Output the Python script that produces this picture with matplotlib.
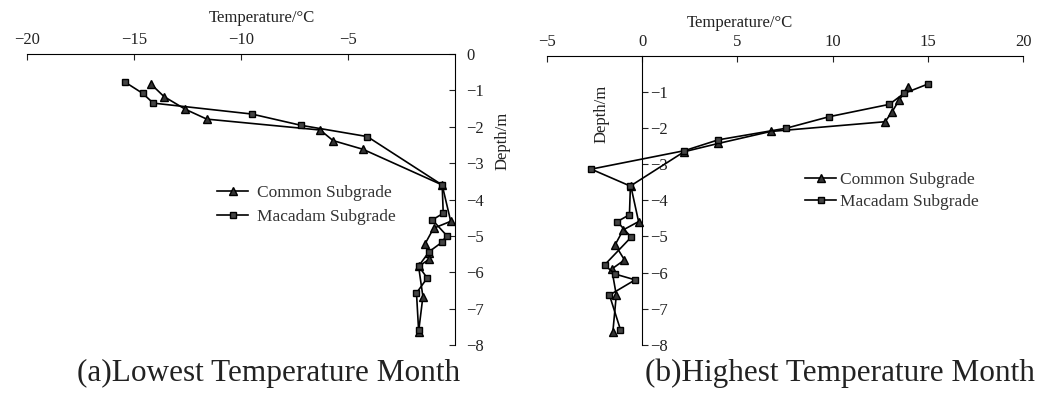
import matplotlib
matplotlib.use("Agg")
import matplotlib.pyplot as plt

plt.rcParams['font.family'] = ['Liberation Serif', 'DejaVu Serif']
plt.rcParams['axes.unicode_minus'] = True

# (a) Lowest temperature month
a_common_T = [-14.2, -13.6, -12.6, -11.6, -6.3, -5.7, -4.3, -0.6, -0.2, -1.0, -1.4, -1.2, -1.2, -1.7, -1.5, -1.7]
a_common_D = [-0.83, -1.17, -1.52, -1.79, -2.09, -2.38, -2.62, -3.6, -4.6, -4.79, -5.22, -5.48, -5.64, -5.84, -6.67, -7.63]
a_macadam_T = [-15.4, -14.6, -14.1, -9.5, -7.2, -4.1, -0.6, -0.55, -1.06, -0.39, -0.62, -1.2, -1.7, -1.3, -1.8, -1.7]
a_macadam_D = [-0.78, -1.08, -1.35, -1.65, -1.96, -2.27, -3.6, -4.38, -4.56, -4.99, -5.18, -5.43, -5.83, -6.16, -6.57, -7.6]

# (b) Highest temperature month
b_common_T = [13.95, 13.5, 13.13, 12.76, 6.74, 4.0, 2.2, -0.6, -0.19, -1.0, -1.42, -0.93, -1.6, -1.36, -1.54]
b_common_D = [-0.88, -1.23, -1.55, -1.83, -2.1, -2.43, -2.66, -3.6, -4.59, -4.82, -5.23, -5.65, -5.9, -6.62, -7.63]
b_macadam_T = [15.0, 13.74, 12.98, 9.83, 7.56, 4.0, 2.22, -2.68, -0.62, -0.67, -1.31, -0.58, -1.98, -1.42, -0.37, -1.72, -1.14]
b_macadam_D = [-0.79, -1.05, -1.35, -1.69, -2.01, -2.33, -2.63, -3.14, -3.61, -4.4, -4.59, -5.02, -5.79, -6.04, -6.2, -6.62, -7.58]

a_xticks = [-20, -15, -10, -5]
a_yticks = [0, -1, -2, -3, -4, -5, -6, -7, -8]
b_xticks = [-5, 0, 5, 10, 15, 20]
b_yticks = [-1, -2, -3, -4, -5, -6, -7, -8]

W, H = 1040, 394
fig = plt.figure(figsize=(10.4, 3.94), dpi=100)

tick_col = '#222222'
tri_kw = dict(color='black', lw=1.2, marker='^', ms=5.5, mfc='#333333', mec='black')
sq_kw = dict(color='black', lw=1.2, marker='s', ms=5, mfc='#444444', mec='black')


def fmt(v):
    if v < 0:
        return '\u2212' + str(abs(v))
    return str(v)


# ---- left axes ----
axA = fig.add_axes([27 / W, 1 - 345 / H, (455 - 27) / W, (345 - 54) / H])
axA.plot(a_common_T, a_common_D, label='Common Subgrade', **tri_kw)
axA.plot(a_macadam_T, a_macadam_D, label='Macadam Subgrade', **sq_kw)
axA.set_xlim(-20, 0)
axA.set_ylim(-8, 0)
axA.spines['left'].set_visible(False)
axA.spines['bottom'].set_visible(False)
axA.xaxis.set_ticks_position('top')
axA.yaxis.set_ticks_position('right')
axA.set_xticks(a_xticks)
axA.set_xticklabels([fmt(v) for v in a_xticks])
axA.set_yticks(a_yticks)
axA.set_yticklabels([fmt(v) for v in a_yticks])
axA.tick_params(axis='x', direction='in', length=4, labelsize=12, pad=4, colors=tick_col)
axA.tick_params(axis='y', direction='in', length=4, labelsize=12, pad=8, colors=tick_col)
axA.patch.set_alpha(0)
axA.legend(loc='upper left', bbox_to_anchor=((210 - 27) / (455 - 27), 1 - (178 - 54) / (345 - 54)),
           frameon=False, fontsize=12.5, handlelength=1.8, handletextpad=0.5, labelspacing=0.45,
           labelcolor='#333333', borderaxespad=0)

fig.text(262 / W, 1 - 18 / H, 'Temperature/°C', ha='center', va='center', fontsize=12, color=tick_col)
fig.text(503 / W, 1 - 141 / H, 'Depth/m', ha='center', va='center', rotation=90, fontsize=12, color=tick_col)
fig.text(77 / W, 1 - 373 / H, '(a)Lowest Temperature Month', ha='left', va='center', fontsize=22.5, color='#222222')

# ---- right axes ----
axB = fig.add_axes([547 / W, 1 - 345 / H, (1023 - 547) / W, (345 - 55.5) / H])
axB.plot(b_common_T, b_common_D, label='Common Subgrade', **tri_kw)
axB.plot(b_macadam_T, b_macadam_D, label='Macadam Subgrade', **sq_kw)
axB.set_xlim(-5, 20)
axB.set_ylim(-8, 0)
axB.spines['left'].set_visible(False)
axB.spines['bottom'].set_visible(False)
axB.spines['right'].set_position(('data', 0))
axB.xaxis.set_ticks_position('top')
axB.yaxis.set_ticks_position('right')
axB.set_xticks(b_xticks)
axB.set_xticklabels([fmt(v) for v in b_xticks])
axB.set_yticks(b_yticks)
axB.set_yticklabels([fmt(v) for v in b_yticks])
axB.tick_params(axis='x', direction='in', length=4, labelsize=12, pad=4, colors=tick_col)
axB.tick_params(axis='y', direction='out', length=4, labelsize=12, pad=2, colors=tick_col)
axB.patch.set_alpha(0)
axB.legend(loc='upper left', bbox_to_anchor=((798 - 547) / (1023 - 547), 1 - (165 - 55.5) / (345 - 55.5)),
           frameon=False, fontsize=12.5, handlelength=1.8, handletextpad=0.2, labelspacing=0.35,
           labelcolor='#333333', borderaxespad=0)

fig.text(740 / W, 1 - 23 / H, 'Temperature/°C', ha='center', va='center', fontsize=12, color=tick_col)
fig.text(602 / W, 1 - 114 / H, 'Depth/m', ha='center', va='center', rotation=90, fontsize=12, color=tick_col)
fig.text(1035 / W, 1 - 373 / H, '(b)Highest Temperature Month', ha='right', va='center', fontsize=22.5, color='#222222')

fig.savefig('out.png', dpi=100)
